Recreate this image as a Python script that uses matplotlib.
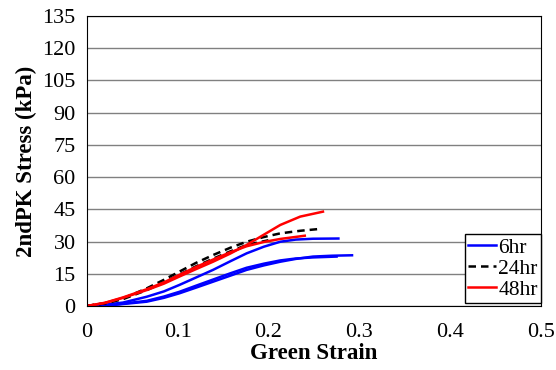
import matplotlib
matplotlib.use("Agg")
import matplotlib.pyplot as plt

plt.rcParams['font.family'] = ['Liberation Serif', 'DejaVu Serif']

# 6hr curves
strain_6a = [0, 0.02, 0.04, 0.066, 0.085, 0.102, 0.12, 0.139, 0.158, 0.176, 0.195, 0.213, 0.23, 0.249, 0.277]
stress_6a = [0, 0.6, 1.6, 4.3, 6.8, 9.8, 13.2, 16.8, 20.8, 24.5, 27.6, 29.9, 30.9, 31.3, 31.4]
strain_6b = [0, 0.03, 0.066, 0.085, 0.102, 0.12, 0.139, 0.158, 0.176, 0.195, 0.213, 0.23, 0.249, 0.27, 0.292]
stress_6b = [0, 0.5, 2.0, 3.8, 5.9, 8.5, 11.3, 14.1, 16.8, 18.9, 20.6, 21.9, 23.0, 23.4, 23.6]
strain_6c = [0, 0.03, 0.066, 0.085, 0.102, 0.12, 0.139, 0.158, 0.176, 0.195, 0.213, 0.23, 0.249, 0.275]
stress_6c = [0, 0.6, 2.4, 4.4, 6.6, 9.4, 12.3, 15.2, 17.8, 19.7, 21.2, 22.1, 22.6, 23.0]

# 24hr curves
strain_24a = [0, 0.02, 0.04, 0.066, 0.085, 0.102, 0.12, 0.139, 0.158, 0.176, 0.195, 0.213, 0.235, 0.255]
stress_24a = [0, 1.3, 3.5, 8.2, 12.2, 16.0, 20.0, 23.7, 27.1, 29.9, 32.1, 33.8, 35.0, 35.8]
strain_24b = [0, 0.02, 0.04, 0.066, 0.085, 0.102, 0.12, 0.139, 0.158, 0.176, 0.2]
stress_24b = [0, 1.2, 3.2, 7.4, 11.0, 14.6, 18.4, 22.0, 25.4, 28.4, 30.6]

# 48hr curves
strain_48a = [0, 0.02, 0.04, 0.066, 0.085, 0.102, 0.12, 0.139, 0.158, 0.176, 0.195, 0.213, 0.235, 0.26]
stress_48a = [0, 1.4, 3.8, 7.4, 10.4, 13.7, 17.1, 20.6, 24.4, 28.4, 33.2, 37.7, 41.6, 43.9]
strain_48b = [0, 0.02, 0.04, 0.066, 0.085, 0.102, 0.12, 0.139, 0.158, 0.176, 0.195, 0.213, 0.24]
stress_48b = [0, 1.5, 4.0, 7.8, 11.0, 14.5, 18.1, 21.6, 25.0, 27.8, 29.8, 31.2, 32.7]

fig = plt.figure(figsize=(5.56, 3.70), dpi=100)
ax = fig.add_axes([0.156, 0.173, 0.817, 0.784])

lw = 1.8
ax.plot(strain_6a, stress_6a, color='blue', lw=lw, label='6hr')
ax.plot(strain_6b, stress_6b, color='blue', lw=lw)
ax.plot(strain_6c, stress_6c, color='blue', lw=lw)
ax.plot(strain_24a, stress_24a, color='black', lw=lw, ls=(0, (3, 2)), label='24hr')
ax.plot(strain_24b, stress_24b, color='black', lw=lw, ls=(0, (3, 2)))
ax.plot(strain_48a, stress_48a, color='red', lw=lw, label='48hr')
ax.plot(strain_48b, stress_48b, color='red', lw=lw)

ax.set_xlim(0, 0.5)
ax.set_ylim(0, 135)
ax.set_xticks([0, 0.1, 0.2, 0.3, 0.4, 0.5])
ax.set_xticklabels(['0', '0.1', '0.2', '0.3', '0.4', '0.5'])
ax.set_yticks(range(0, 136, 15))
ax.tick_params(length=0, labelsize=16)
ax.tick_params(axis='y', pad=8)
ax.tick_params(axis='x', pad=12)
ax.yaxis.grid(True, color='#808080', lw=1)
ax.set_axisbelow(True)
for s in ax.spines.values():
    s.set_color('black')

ax.set_xlabel('Green Strain', fontsize=16.5, fontweight='bold', labelpad=1)
ax.set_ylabel('2ndPK Stress (kPa)', fontsize=16.5, fontweight='bold', labelpad=4)

leg = ax.legend(loc='lower right', bbox_to_anchor=(1.0, 0.01), fontsize=15.5,
                fancybox=False, framealpha=1, edgecolor='black',
                handlelength=1.3, handletextpad=0.1, borderpad=0.15,
                labelspacing=0.05, borderaxespad=0)
leg.get_frame().set_linewidth(1)

fig.savefig('out.png', dpi=100)
